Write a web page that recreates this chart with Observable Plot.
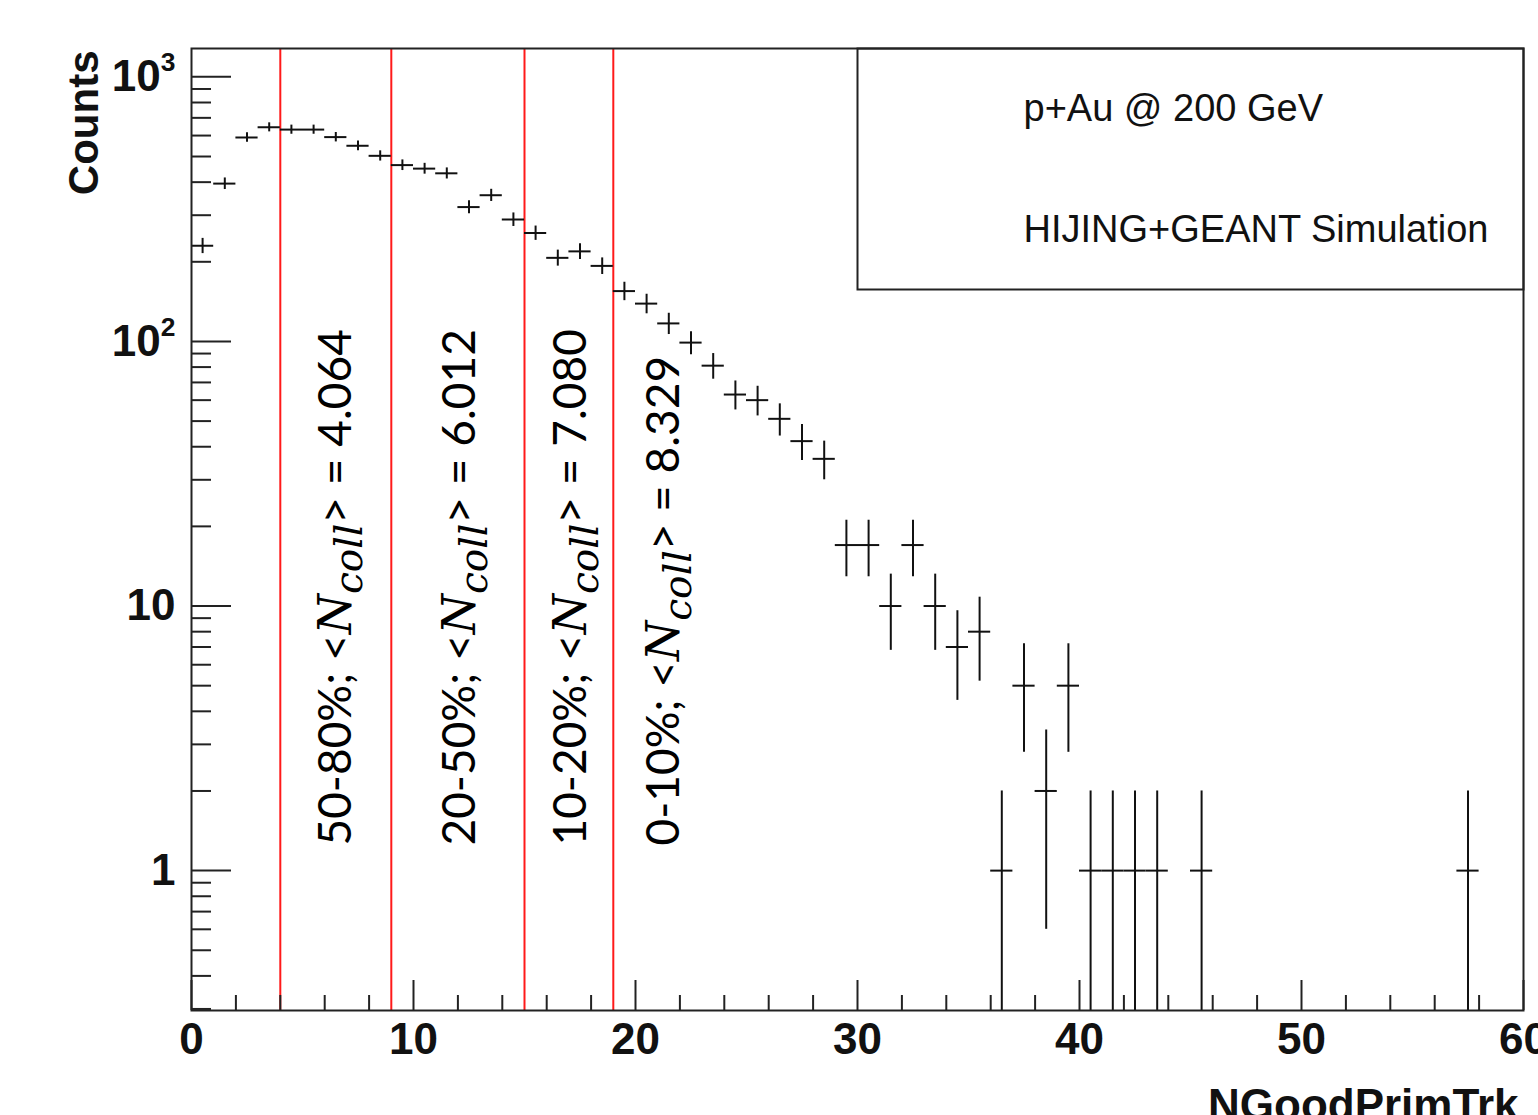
<!DOCTYPE html>
<html>
<head>
<meta charset="utf-8">
<script src="https://cdn.jsdelivr.net/npm/d3@7"></script>
<script src="https://cdn.jsdelivr.net/npm/@observablehq/plot@0.6"></script>
<style>
  html, body { margin: 0; padding: 0; background: #fff; overflow: hidden; }
  #chart { width: 1538px; height: 1115px; }
</style>
</head>
<body>
<div id="chart"></div>
<script>
// ---- data (NGoodPrimTrk, bin width 1) ----
const binLowEdges = [0, 1, 2, 3, 4, 5, 6, 7, 8, 9, 10, 11, 12, 13, 14, 15, 16, 17, 18, 19,
  20, 21, 22, 23, 24, 25, 26, 27, 28, 29, 30, 31, 32, 33, 34, 35, 36, 37, 38, 39,
  40, 41, 42, 43, 45, 57];
const counts = [230, 395, 590, 645, 632, 632, 592, 549, 503, 464, 450, 432, 322, 357, 289, 257, 207, 219, 193, 155,
  139, 117, 99, 81, 63, 60, 51, 42, 36, 17, 17, 10, 17, 10, 7, 8, 1, 5, 2, 5,
  1, 1, 1, 1, 1, 1];
const errors = [15.2, 19.9, 24.3, 25.4, 25.1, 25.1, 24.3, 23.4, 22.4, 21.5, 21.2, 20.8, 17.9, 18.9, 17.0, 16.0, 14.4, 14.8, 13.9, 12.4,
  11.8, 10.8, 9.9, 9.0, 7.9, 7.7, 7.1, 6.5, 6.0, 4.1, 4.1, 3.2, 4.1, 3.2, 2.6, 2.8, 1.0, 2.2, 1.4, 2.2,
  1.0, 1.0, 1.0, 1.0, 1.0, 1.0];

// centrality cuts and annotations
const cutEdges = [4, 9, 15, 19];
const centralityClasses = ["50-80%", "20-50%", "10-20%", "0-10%"];
const nCollValues = ["4.064", "6.012", "7.080", "8.329"];
const labelX = [6.5, 12.1, 17.1, 21.3];

// axes
const xDomain = [0, 60];
const yDomain = [0.296, 1280];
const xMajorTicks = [0, 10, 20, 30, 40, 50, 60];
const xMinorTicks = [2, 4, 6, 8, 12, 14, 16, 18, 22, 24, 26, 28, 32, 34, 36, 38, 42, 44, 46, 48, 52, 54, 56, 58];
const yMajorTicks = [1, 10, 100, 1000];
const yTickBases = ["1", "10", "10", "10"];
const yTickExponents = ["", "", "2", "3"];
const yMinorTicks = [0.3, 0.4, 0.5, 0.6, 0.7, 0.8, 0.9, 2, 3, 4, 5, 6, 7, 8, 9,
  20, 30, 40, 50, 60, 70, 80, 90, 200, 300, 400, 500, 600, 700, 800, 900];

const legendLines = ["p+Au @ 200 GeV", "HIJING+GEANT Simulation"];
const xTitle = "NGoodPrimTrk";
const yTitle = "Counts";

// ---- layout ----
const W = 1538, H = 1115;
const M = {top: 48, right: 15, bottom: 105, left: 191};
const frameW = W - M.left - M.right;
const frameH = H - M.top - M.bottom;

const idx = d3.range(counts.length);
const labelIdx = d3.range(centralityClasses.length);
const ink = "#111";

const plot = Plot.plot({
  width: W,
  height: H,
  marginTop: M.top,
  marginRight: M.right,
  marginBottom: M.bottom,
  marginLeft: M.left,
  style: {fontFamily: "'Liberation Sans', Arial, sans-serif", fontSize: "44px", fontWeight: "bold", color: ink, background: "white", overflow: "visible"},
  x: {domain: xDomain},
  y: {type: "log", domain: yDomain, clamp: true},
  marks: [
    // centrality cut lines
    Plot.ruleX(cutEdges, {x: d => d, stroke: "#ff1a1a", strokeWidth: 2}),
    // histogram points: horizontal bin-width bars and vertical stat. errors
    Plot.ruleY(idx, {y: i => counts[i], x1: i => binLowEdges[i], x2: i => binLowEdges[i] + 1, stroke: ink, strokeWidth: 2}),
    Plot.ruleX(idx, {x: i => binLowEdges[i] + 0.5, y1: i => Math.max(counts[i] - errors[i], yDomain[0]), y2: i => counts[i] + errors[i], stroke: ink, strokeWidth: 2}),
    // frame
    Plot.frame({stroke: "#222", strokeWidth: 2}),
    // inward ticks
    Plot.tickY(yMajorTicks, {y: d => d, insetRight: frameW - 40, stroke: "#222", strokeWidth: 2}),
    Plot.tickY(yMinorTicks, {y: d => d, insetRight: frameW - 20, stroke: "#222", strokeWidth: 2}),
    Plot.tickX(xMajorTicks, {x: d => d, insetTop: frameH - 30, stroke: "#222", strokeWidth: 2}),
    Plot.tickX(xMinorTicks, {x: d => d, insetTop: frameH - 15, stroke: "#222", strokeWidth: 2}),
    // tick labels
    Plot.axisX(xMajorTicks, {tickSize: 0, tickPadding: 12, label: null, fontSize: 44, fontWeight: "bold", tickFormat: d => String(d)}),
    Plot.axisY(yMajorTicks, {tickSize: 0, tickPadding: 16, label: null, fontSize: 44, fontWeight: "bold",
      tickFormat: d => { const k = yMajorTicks.indexOf(d); return yTickExponents[k] ? `${yTickBases[k]}^${yTickExponents[k]}` : yTickBases[k]; }}),
    // axis titles
    Plot.text([yTitle], {text: d => d, frameAnchor: "top-left", lineAnchor: "middle", rotate: -90, textAnchor: "end", dx: -107, dy: 2, fontSize: 42, fontWeight: "bold"}),
    Plot.text([xTitle], {text: d => d, frameAnchor: "bottom-right", textAnchor: "end", lineAnchor: "top", dx: -5, dy: 78, fontSize: 44, fontWeight: "bold"}),
    // legend box
    Plot.frame({insetLeft: 666, insetBottom: 721, stroke: "#222", strokeWidth: 2}),
    Plot.text([legendLines[0]], {text: d => d, frameAnchor: "top-left", lineAnchor: "middle", textAnchor: "start", dx: 832, dy: 60, fontSize: 38, fontWeight: "normal"}),
    Plot.text([legendLines[1]], {text: d => d, frameAnchor: "top-left", lineAnchor: "middle", textAnchor: "start", dx: 832, dy: 181, fontSize: 38, fontWeight: "normal"}),
    // centrality annotations
    Plot.text(labelIdx, {
      x: i => labelX[i],
      frameAnchor: "bottom",
      lineAnchor: "middle",
      dy: -165,
      rotate: -90,
      textAnchor: "start",
      text: i => `${centralityClasses[i]}; <Ncoll> = ${nCollValues[i]}`,
      fontFamily: "Lato, 'Open Sans', sans-serif",
      fontSize: 46,
      fontWeight: "normal",
      fill: "#000"
    })
  ]
});

document.getElementById("chart").appendChild(plot);

// y tick labels: 10 with a raised exponent
d3.select(plot).selectAll("text")
  .filter(function () { return this.textContent.includes("^"); })
  .each(function () {
    const [base, exp] = this.textContent.split("^");
    const t = d3.select(this);
    t.text(null);
    t.append("tspan").text(base);
    t.append("tspan").attr("font-size", "0.6em").attr("dy", "-0.75em").text(exp);
  });

// typeset <N_coll> with an italic math-style N and subscript "coll"
const mathFont = "'DejaVu Serif', 'Liberation Serif', serif";
d3.select(plot).selectAll("text")
  .filter(function () { return this.textContent.includes("Ncoll"); })
  .each(function (_, i) {
    const t = d3.select(this);
    t.text(null);
    t.append("tspan").text(`${centralityClasses[i]}; <`);
    t.append("tspan").attr("font-family", mathFont).attr("font-style", "italic").attr("font-size", "1.0em").text("N");
    t.append("tspan").attr("font-family", mathFont).attr("font-style", "italic").attr("font-size", "0.85em").attr("dy", "0.3em").text("coll");
    t.append("tspan").attr("dy", "-0.255em").text(`> = ${nCollValues[i]}`);
  });
</script>
</body>
</html>
